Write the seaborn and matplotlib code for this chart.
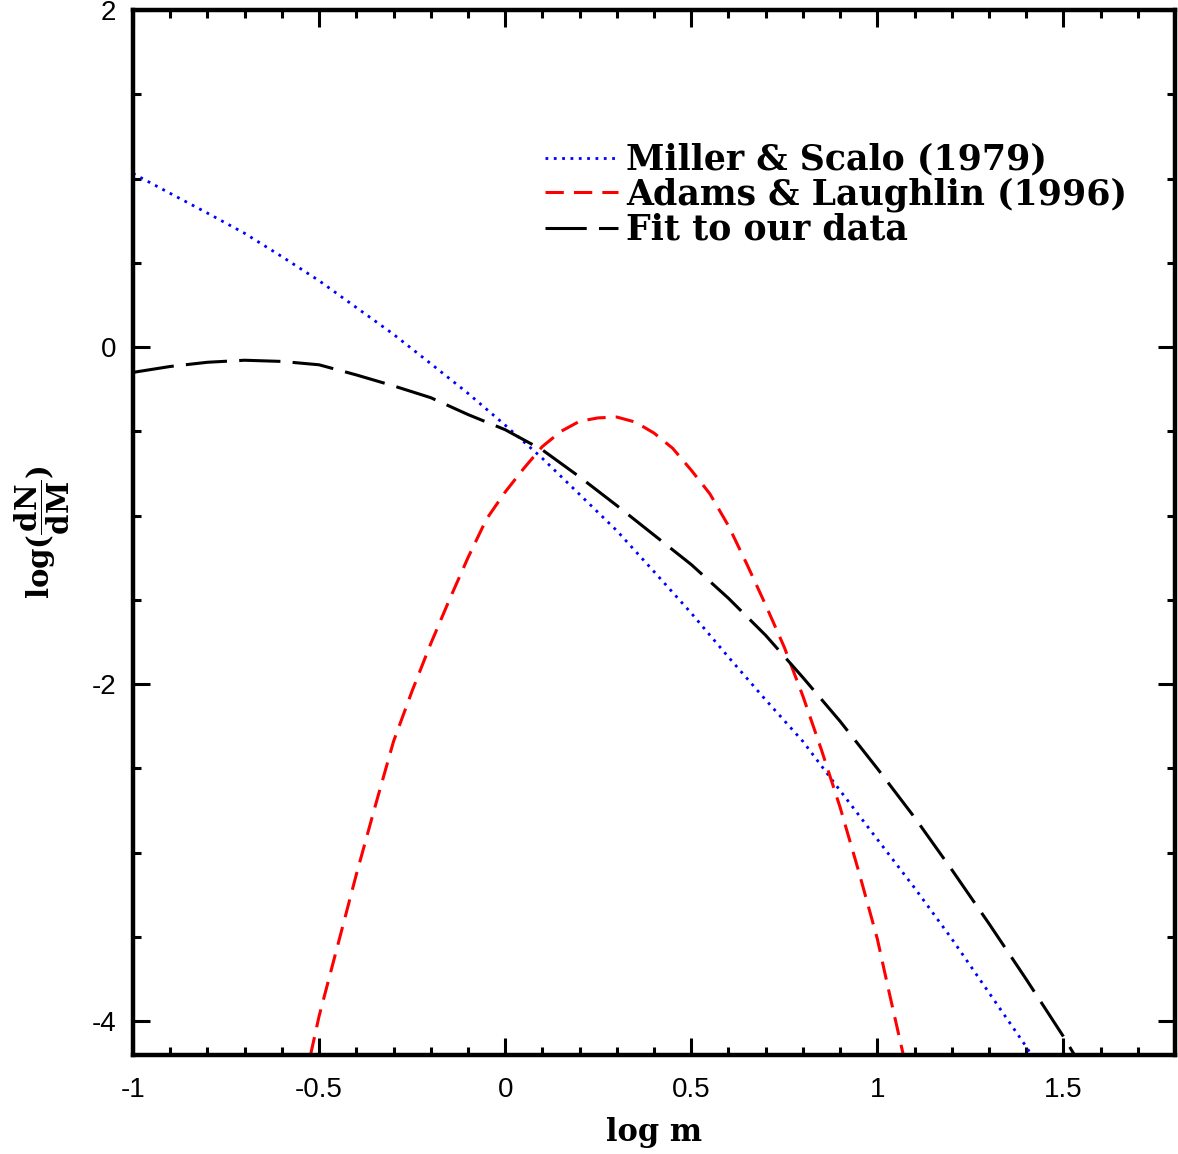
import matplotlib
matplotlib.use("Agg")
import matplotlib.pyplot as plt
import seaborn as sns
import pandas as pd
from matplotlib.ticker import MultipleLocator, FuncFormatter

# ---- data ----
ms_x = [-1.0, -0.9, -0.8, -0.7, -0.6, -0.5, -0.4, -0.3, -0.2, -0.1, 0.0, 0.1, 0.2,
        0.3, 0.4, 0.5, 0.6, 0.7, 0.8, 0.9, 1.0, 1.1, 1.2, 1.3, 1.4, 1.42]
ms_y = [1.03, 0.912, 0.795, 0.675, 0.537, 0.394, 0.235, 0.076, -0.098, -0.274, -0.463,
        -0.66, -0.874, -1.089, -1.332, -1.578, -1.839, -2.093, -2.339, -2.631, -2.92,
        -3.208, -3.51, -3.83, -4.15, -4.22]

al_x = [-0.523, -0.5, -0.45, -0.4, -0.35, -0.3, -0.25, -0.2, -0.15, -0.1, -0.05, 0.0,
        0.05, 0.1, 0.15, 0.2, 0.25, 0.3, 0.35, 0.4, 0.45, 0.5, 0.55, 0.6, 0.65, 0.7,
        0.75, 0.8, 0.85, 0.9, 0.95, 1.0, 1.03, 1.07]
al_y = [-4.20, -3.97, -3.55, -3.13, -2.73, -2.34, -2.04, -1.76, -1.50, -1.25, -1.02,
        -0.86, -0.72, -0.59, -0.50, -0.44, -0.42, -0.415, -0.445, -0.51, -0.60, -0.73,
        -0.87, -1.06, -1.29, -1.53, -1.78, -2.07, -2.39, -2.73, -3.11, -3.51, -3.81, -4.20]

fit_x = [-1.0, -0.9, -0.8, -0.7, -0.6, -0.5, -0.4, -0.3, -0.2, -0.1, 0.0, 0.1, 0.2,
         0.3, 0.4, 0.5, 0.6, 0.7, 0.8, 0.9, 1.0, 1.1, 1.2, 1.3, 1.4, 1.5, 1.53]
fit_y = [-0.15, -0.115, -0.09, -0.078, -0.085, -0.105, -0.165, -0.23, -0.30, -0.40,
         -0.49, -0.61, -0.77, -0.94, -1.115, -1.29, -1.49, -1.71, -1.96, -2.22, -2.50,
         -2.79, -3.10, -3.42, -3.75, -4.09, -4.20]

labels = ["Miller & Scalo (1979)", "Adams & Laughlin (1996)", "Fit to our data"]
x_ticks = [-1, -0.5, 0, 0.5, 1, 1.5]
y_ticks = [-4, -2, 0, 2]

sns.set_style("ticks")
plt.rcParams["font.family"] = ["Liberation Sans", "DejaVu Sans"]
plt.rcParams["axes.unicode_minus"] = False
plt.rcParams["mathtext.fontset"] = "dejavuserif"
plt.rcParams["text.color"] = "black"
plt.rcParams["axes.labelcolor"] = "black"
plt.rcParams["xtick.color"] = "black"
plt.rcParams["ytick.color"] = "black"

fig = plt.figure(figsize=(11.78, 11.54), dpi=100)
ax = fig.add_axes([133 / 1178, 1 - 1055 / 1154, (1175 - 133) / 1178, (1055 - 10) / 1154])

df_ms = pd.DataFrame({"x": ms_x, "y": ms_y})
df_al = pd.DataFrame({"x": al_x, "y": al_y})
df_fit = pd.DataFrame({"x": fit_x, "y": fit_y})

sns.lineplot(data=df_ms, x="x", y="y", ax=ax, color="#0000ff", lw=2.0,
             linestyle=(0, (1.0, 2.0)), label=labels[0], sort=False)
sns.lineplot(data=df_al, x="x", y="y", ax=ax, color="#ff0000", lw=2.2,
             linestyle=(0, (6.0, 3.3)), label=labels[1], sort=False)
sns.lineplot(data=df_fit, x="x", y="y", ax=ax, color="black", lw=2.2,
             linestyle=(0, (13.5, 4.0)), label=labels[2], sort=False)

ax.set_xlim(-1, 1.8)
ax.set_ylim(-4.2, 2)
ax.set_xticks(x_ticks)
ax.set_yticks(y_ticks)
ax.xaxis.set_minor_locator(MultipleLocator(0.1))
ax.yaxis.set_minor_locator(MultipleLocator(0.5))
fmt = FuncFormatter(lambda v, p: "%g" % v)
ax.xaxis.set_major_formatter(fmt)
ax.yaxis.set_major_formatter(fmt)

ax.tick_params(which="both", direction="in", top=True, right=True, color="black")
ax.tick_params(which="major", length=12.5, width=2.2, labelsize=20, pad=16)
ax.tick_params(which="minor", length=6, width=2.2)
ax.tick_params(axis="y", which="major", pad=12)
for s in ax.spines.values():
    s.set_linewidth(3.2)
    s.set_color("black")

ax.set_xlabel("log m", fontfamily="DejaVu Serif", fontweight="bold", fontsize=22,
              labelpad=10, color="black")
ax.set_ylabel(r"$\mathbf{log(\dfrac{dN}{dM})}$", fontsize=21, labelpad=14, color="black")

leg = ax.legend(loc="upper left", bbox_to_anchor=(0.395, 0.873), frameon=False,
                borderpad=0, borderaxespad=0, handlelength=2.1, handletextpad=0.25,
                labelspacing=0.02, prop={"family": "DejaVu Serif", "weight": "bold", "size": 25})
for t in leg.get_texts():
    t.set_color("black")

fig.savefig("out.png", dpi=100)
